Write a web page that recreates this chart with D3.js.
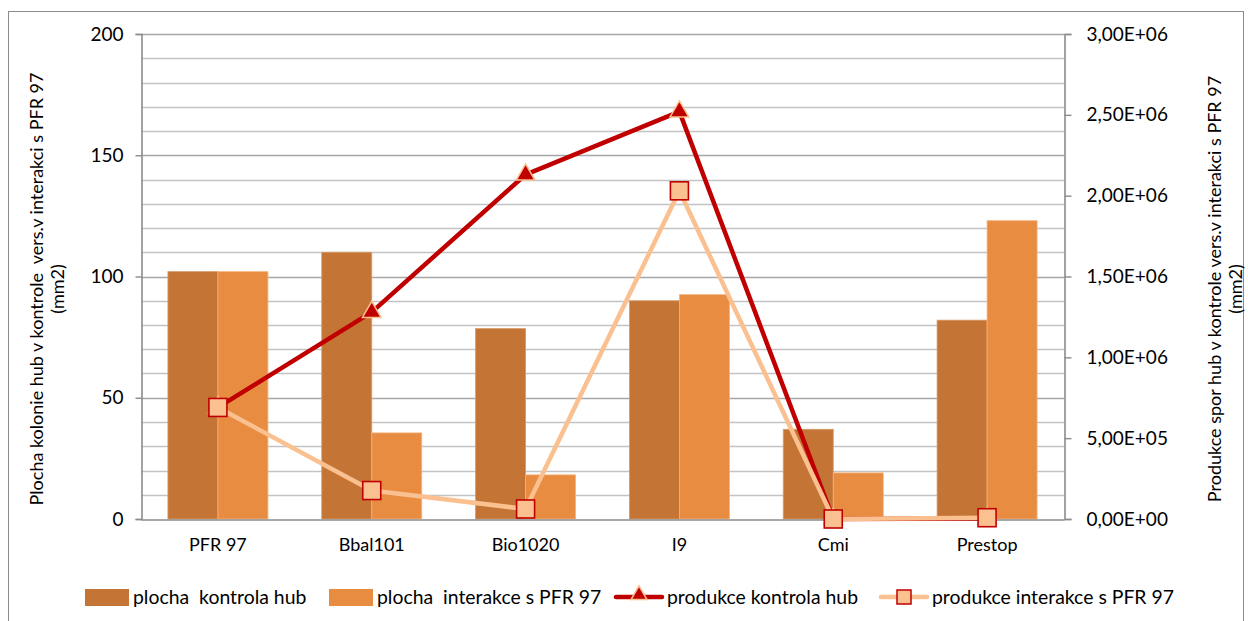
<!DOCTYPE html>
<html>
<head>
<meta charset="utf-8">
<script src="https://cdn.jsdelivr.net/npm/d3@7"></script>
<style>
  html, body { margin: 0; padding: 0; background: #fff; }
  svg { display: block; }
  text { font-family: Lato, "Open Sans", sans-serif; fill: #000; white-space: pre; }
</style>
</head>
<body>
<svg id="chart" width="1248" height="621"></svg>
<script>
// Fungal colony area (left axis, mm2) and spore production (right axis)
const categories = ["PFR 97", "Bbal101", "Bio1020", "I9", "Cmi", "Prestop"];
const plochaKontrola = [102, 110, 78.5, 90, 37, 82];
const plochaInterakce = [102, 35.5, 18.2, 92.5, 19, 123];
const produkceKontrola = [690000, 1280000, 2130000, 2520000, 0, 3000];
const produkceInterakce = [690000, 176000, 62000, 2030000, 0, 8000];
const leftTicks = [0, 50, 100, 150, 200];
const rightTicks = [0, 500000, 1000000, 1500000, 2000000, 2500000, 3000000];
const seriesNames = ["plocha  kontrola hub", "plocha  interakce s PFR 97",
                     "produkce kontrola hub", "produkce interakce s PFR 97"];

const colKontrola = "#C47535";
const colInterakce = "#E88C42";
const colRed = "#C00000";
const colLight = "#FAC090";

const svg = d3.select("#chart");
const plot = { left: 141, right: 1064, top: 34, bottom: 519 };

// chart area frame
svg.append("rect")
  .attr("x", 8.5).attr("y", 11.5)
  .attr("width", 1235).attr("height", 640)
  .attr("fill", "#fff").attr("stroke", "#8c8c8c").attr("stroke-width", 1);

const x0 = d3.scaleBand().domain(categories)
  .range([plot.left, plot.right]).paddingInner(0.35).paddingOuter(0.175);
const x1 = d3.scaleBand().domain([0, 1]).range([0, x0.bandwidth()]);
const yL = d3.scaleLinear().domain([0, 200]).range([plot.bottom, plot.top]);
const yR = d3.scaleLinear().domain([0, 3000000]).range([plot.bottom, plot.top]);

// horizontal gridlines every 10 mm2
const grid = d3.range(10, 201, 10);
svg.append("g").selectAll("line").data(grid).join("line")
  .attr("x1", plot.left).attr("x2", plot.right)
  .attr("y1", d => Math.round(yL(d)) + 0.5).attr("y2", d => Math.round(yL(d)) + 0.5)
  .attr("stroke", d => d % 50 === 0 ? "#a6a6a6" : "#c3c3c3")
  .attr("stroke-width", 1.6);

// bars
const barData = [plochaKontrola, plochaInterakce];
const barCols = [colKontrola, colInterakce];
const barEdge = ["#d99a66", "#f4b27a"];
barData.forEach((vals, si) => {
  svg.append("g").selectAll("rect").data(vals).join("rect")
    .attr("x", (d, i) => x0(categories[i]) + x1(si))
    .attr("y", d => yL(d))
    .attr("width", x1.bandwidth())
    .attr("height", d => yL(0) - yL(d))
    .attr("fill", barCols[si])
    .attr("stroke", barEdge[si]).attr("stroke-width", 0.8);
});

// left axis
const axL = svg.append("g").attr("transform", `translate(${plot.left + 0.5},0)`)
  .call(d3.axisLeft(yL).tickValues(leftTicks).tickSize(6).tickPadding(12).tickFormat(d3.format("d")));
// right axis
const fmtR = d => {
  if (d === 0) return "0,00E+00";
  const e = Math.floor(Math.log10(d));
  const m = d / Math.pow(10, e);
  return m.toFixed(2).replace(".", ",") + "E+" + String(e).padStart(2, "0");
};
const axR = svg.append("g").attr("transform", `translate(${plot.right + 0.5},0)`)
  .call(d3.axisRight(yR).tickValues(rightTicks).tickSize(7).tickPadding(15).tickFormat(fmtR));
// bottom axis
const axB = svg.append("g").attr("transform", `translate(0,${plot.bottom + 0.5})`)
  .call(d3.axisBottom(x0).tickSize(0).tickPadding(14));

[axL, axR, axB].forEach(a => {
  a.selectAll("path.domain").attr("stroke", "#8c8c8c").attr("stroke-width", 1.6);
  a.selectAll(".tick line").attr("stroke", "#8c8c8c").attr("stroke-width", 1.4);
  a.selectAll("text").attr("font-family", "Lato, sans-serif").attr("font-size", 19).attr("fill", "#000");
});
axB.selectAll("text").attr("font-size", 18).attr("dy", "0.95em");

// axis titles
const leftTitle = svg.append("text")
  .attr("transform", "translate(0,289) rotate(-90)")
  .attr("text-anchor", "middle").attr("font-size", 18);
leftTitle.append("tspan").attr("x", 0).attr("y", 43)
  .text("Plocha kolonie hub v kontrole  vers.v interakci s PFR 97");
leftTitle.append("tspan").attr("x", 0).attr("y", 64).text("(mm2)");

const rightTitle = svg.append("text")
  .attr("transform", "translate(0,289) rotate(-90)")
  .attr("text-anchor", "middle").attr("font-size", 18);
rightTitle.append("tspan").attr("x", 0).attr("y", 1221)
  .text("Produkce spor hub v kontrole vers.v interakci s PFR 97");
rightTitle.append("tspan").attr("x", 0).attr("y", 1242).text("(mm2)");

// lines
const cx = i => x0(categories[i]) + x0.bandwidth() / 2;
const line = d3.line().x((d, i) => cx(i)).y(d => yR(d));

function drawLine(vals, color) {
  svg.append("path").datum(vals)
    .attr("d", line).attr("fill", "none")
    .attr("stroke", color).attr("stroke-width", 4.5)
    .attr("stroke-linejoin", "round");
}
const tri = d3.symbol().type(d3.symbolTriangle).size(150);

drawLine(produkceKontrola, colRed);
svg.append("g").selectAll("path").data(produkceKontrola).join("path")
  .attr("d", tri)
  .attr("transform", (d, i) => `translate(${cx(i)},${yR(d)})`)
  .attr("fill", colRed).attr("stroke", colLight).attr("stroke-width", 1.5);

drawLine(produkceInterakce, colLight);
svg.append("g").selectAll("rect").data(produkceInterakce).join("rect")
  .attr("x", (d, i) => cx(i) - 9).attr("y", d => yR(d) - 9)
  .attr("width", 18).attr("height", 18)
  .attr("fill", colLight).attr("stroke", colRed).attr("stroke-width", 1.6);

// legend
const legY = 597;
const legFont = 19.4;
const leg = svg.append("g");
const legItems = [
  { type: "bar", color: colKontrola, x: 85 },
  { type: "bar", color: colInterakce, x: 329 },
  { type: "tri", x: 616 },
  { type: "sq", x: 881 }
];
legItems.forEach((it, k) => {
  if (it.type === "bar") {
    leg.append("rect").attr("x", it.x).attr("y", legY - 8).attr("width", 44).attr("height", 17)
      .attr("fill", it.color);
    leg.append("text").attr("x", it.x + 48).attr("y", legY).attr("dy", "0.35em")
      .attr("font-size", legFont).text(seriesNames[k]);
  } else {
    const col = it.type === "tri" ? colRed : colLight;
    leg.append("line").attr("x1", it.x).attr("x2", it.x + 46)
      .attr("y1", legY).attr("y2", legY)
      .attr("stroke", col).attr("stroke-width", 4.5).attr("stroke-linecap", "round");
    if (it.type === "tri") {
      leg.append("path").attr("d", d3.symbol().type(d3.symbolTriangle).size(110))
        .attr("transform", `translate(${it.x + 23},${legY - 2})`)
        .attr("fill", colRed).attr("stroke", colLight).attr("stroke-width", 1.5);
    } else {
      leg.append("rect").attr("x", it.x + 16).attr("y", legY - 7).attr("width", 14).attr("height", 14)
        .attr("fill", colLight).attr("stroke", colRed).attr("stroke-width", 1.5);
    }
    leg.append("text").attr("x", it.x + 51).attr("y", legY).attr("dy", "0.35em")
      .attr("font-size", legFont).text(seriesNames[k]);
  }
});
</script>
</body>
</html>
